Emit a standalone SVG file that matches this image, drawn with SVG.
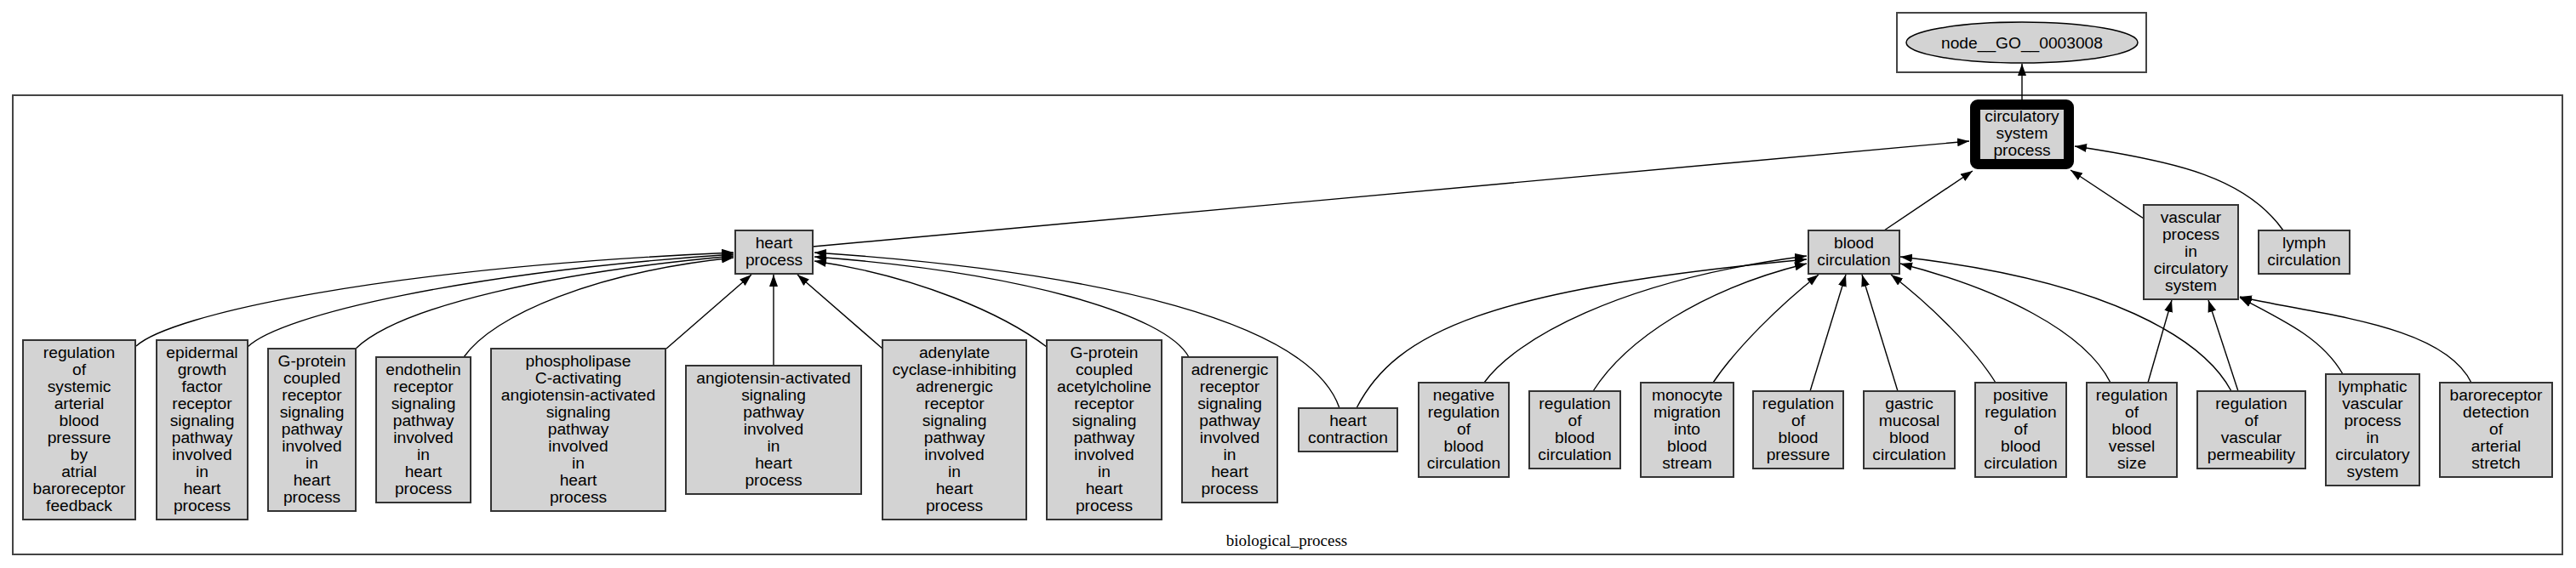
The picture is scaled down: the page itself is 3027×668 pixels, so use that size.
<svg xmlns="http://www.w3.org/2000/svg" width="3027" height="668" viewBox="0 0 3027 668">
<style>
.cl{fill:none;stroke:#444;stroke-width:2}
.n rect{fill:#d3d3d3;stroke:#333;stroke-width:2}
.n text,.top text{font-family:"Liberation Sans",Arial,sans-serif;font-size:19.2px;text-anchor:middle;fill:#000}
.edges path{fill:none;stroke:#000;stroke-width:1.4;marker-end:url(#ah)}
.lbl{font-family:"Liberation Serif","Times New Roman",serif;font-size:19px;text-anchor:middle;fill:#000}
</style>
<defs>
<marker id="ah" markerUnits="userSpaceOnUse" markerWidth="15" markerHeight="11" refX="14" refY="5" orient="auto">
<path d="M0,0 L14,5 L0,10 Z" fill="#000"/>
</marker>
</defs>
<rect width="3027" height="668" fill="#fff"/>
<rect class="cl" x="2229" y="15" width="293" height="70"/>
<rect class="cl" x="15" y="112" width="2996" height="540"/>
<text class="lbl" x="1512" y="642">biological_process</text>

<g class="edges">
<path d="M2376,117 L2376,75"/>
<path d="M955,290 L2314,166"/>
<path d="M2214,271 L2318,201"/>
<path d="M2519,257 L2433,200"/>
<path d="M2683,271 C2640,210 2560,190 2438,172"/>
<path d="M160,407 C200,370 450,315 862,297"/>
<path d="M291,408 C330,370 550,320 862,299"/>
<path d="M418,410 C470,360 650,320 862,301"/>
<path d="M545,420 C580,370 700,320 862,303"/>
<path d="M783,410 L883,323"/>
<path d="M909,430 L909,323"/>
<path d="M1037,410 L937,323"/>
<path d="M1230,408 C1180,370 1080,325 957,307"/>
<path d="M1397,420 C1370,370 1200,320 957,302"/>
<path d="M1574,480 C1540,380 1300,320 957,297"/>
<path d="M1594,480 C1640,390 1750,340 2123,305"/>
<path d="M1744,450 C1780,400 1900,330 2123,301"/>
<path d="M1872,460 C1910,400 2000,340 2123,310"/>
<path d="M2013,450 C2040,410 2090,360 2137,323"/>
<path d="M2127,460 L2169,323"/>
<path d="M2230,460 L2188,323"/>
<path d="M2345,450 C2320,410 2270,360 2222,323"/>
<path d="M2480,450 C2450,390 2350,340 2233,310"/>
<path d="M2622,460 C2590,400 2480,330 2233,302"/>
<path d="M2524,450 L2552,353"/>
<path d="M2630,460 L2595,353"/>
<path d="M2753,440 C2730,400 2690,380 2632,350"/>
<path d="M2904,450 C2870,380 2720,370 2632,349"/>
</g>

<g id="node_GO_0003008" class="top">
<ellipse cx="2376" cy="50" rx="136" ry="24" fill="#d3d3d3" stroke="#000" stroke-width="1.5"/>
<text x="2376" y="57">node__GO__0003008</text>
</g>

<g id="circulatory_system_process" class="n">
<rect x="2321" y="123" width="110" height="70" rx="3" style="stroke:#000;stroke-width:12;stroke-linejoin:round"/>
<text x="2376"><tspan x="2376" y="143">circulatory</tspan><tspan x="2376" y="163">system</tspan><tspan x="2376" y="183">process</tspan></text>
</g>

<g id="heart_process" class="n">
<rect x="864" y="271" width="91" height="51"/>
<text><tspan x="909.5" y="292">heart</tspan><tspan x="909.5" y="312">process</tspan></text>
</g>

<g id="blood_circulation" class="n">
<rect x="2125" y="271" width="107" height="51"/>
<text><tspan x="2178.5" y="292">blood</tspan><tspan x="2178.5" y="312">circulation</tspan></text>
</g>

<g id="vascular_process" class="n">
<rect x="2519" y="241" width="111" height="111"/>
<text><tspan x="2574.5" y="262">vascular</tspan><tspan x="2574.5" y="282">process</tspan><tspan x="2574.5" y="302">in</tspan><tspan x="2574.5" y="322">circulatory</tspan><tspan x="2574.5" y="342">system</tspan></text>
</g>

<g id="lymph_circulation" class="n">
<rect x="2654" y="271" width="107" height="51"/>
<text><tspan x="2707.5" y="292">lymph</tspan><tspan x="2707.5" y="312">circulation</tspan></text>
</g>

<g id="n_reg_sys_art" class="n">
<rect x="27" y="400" width="132" height="211"/>
<text><tspan x="93" y="421">regulation</tspan><tspan x="93" y="441">of</tspan><tspan x="93" y="461">systemic</tspan><tspan x="93" y="481">arterial</tspan><tspan x="93" y="501">blood</tspan><tspan x="93" y="521">pressure</tspan><tspan x="93" y="541">by</tspan><tspan x="93" y="561">atrial</tspan><tspan x="93" y="581">baroreceptor</tspan><tspan x="93" y="601">feedback</tspan></text>
</g>

<g id="n_egf" class="n">
<rect x="184" y="400" width="107" height="211"/>
<text><tspan x="237.5" y="421">epidermal</tspan><tspan x="237.5" y="441">growth</tspan><tspan x="237.5" y="461">factor</tspan><tspan x="237.5" y="481">receptor</tspan><tspan x="237.5" y="501">signaling</tspan><tspan x="237.5" y="521">pathway</tspan><tspan x="237.5" y="541">involved</tspan><tspan x="237.5" y="561">in</tspan><tspan x="237.5" y="581">heart</tspan><tspan x="237.5" y="601">process</tspan></text>
</g>

<g id="n_gpcr" class="n">
<rect x="315" y="410" width="103" height="191"/>
<text><tspan x="366.5" y="431">G-protein</tspan><tspan x="366.5" y="451">coupled</tspan><tspan x="366.5" y="471">receptor</tspan><tspan x="366.5" y="491">signaling</tspan><tspan x="366.5" y="511">pathway</tspan><tspan x="366.5" y="531">involved</tspan><tspan x="366.5" y="551">in</tspan><tspan x="366.5" y="571">heart</tspan><tspan x="366.5" y="591">process</tspan></text>
</g>

<g id="n_endothelin" class="n">
<rect x="442" y="420" width="111" height="171"/>
<text><tspan x="497.5" y="441">endothelin</tspan><tspan x="497.5" y="461">receptor</tspan><tspan x="497.5" y="481">signaling</tspan><tspan x="497.5" y="501">pathway</tspan><tspan x="497.5" y="521">involved</tspan><tspan x="497.5" y="541">in</tspan><tspan x="497.5" y="561">heart</tspan><tspan x="497.5" y="581">process</tspan></text>
</g>

<g id="n_plc" class="n">
<rect x="577" y="410" width="205" height="191"/>
<text><tspan x="679.5" y="431">phospholipase</tspan><tspan x="679.5" y="451">C-activating</tspan><tspan x="679.5" y="471">angiotensin-activated</tspan><tspan x="679.5" y="491">signaling</tspan><tspan x="679.5" y="511">pathway</tspan><tspan x="679.5" y="531">involved</tspan><tspan x="679.5" y="551">in</tspan><tspan x="679.5" y="571">heart</tspan><tspan x="679.5" y="591">process</tspan></text>
</g>

<g id="n_angio" class="n">
<rect x="806" y="430" width="206" height="151"/>
<text><tspan x="909" y="451">angiotensin-activated</tspan><tspan x="909" y="471">signaling</tspan><tspan x="909" y="491">pathway</tspan><tspan x="909" y="511">involved</tspan><tspan x="909" y="531">in</tspan><tspan x="909" y="551">heart</tspan><tspan x="909" y="571">process</tspan></text>
</g>

<g id="n_adenylate" class="n">
<rect x="1037" y="400" width="169" height="211"/>
<text><tspan x="1121.5" y="421">adenylate</tspan><tspan x="1121.5" y="441">cyclase-inhibiting</tspan><tspan x="1121.5" y="461">adrenergic</tspan><tspan x="1121.5" y="481">receptor</tspan><tspan x="1121.5" y="501">signaling</tspan><tspan x="1121.5" y="521">pathway</tspan><tspan x="1121.5" y="541">involved</tspan><tspan x="1121.5" y="561">in</tspan><tspan x="1121.5" y="581">heart</tspan><tspan x="1121.5" y="601">process</tspan></text>
</g>

<g id="n_ach" class="n">
<rect x="1230" y="400" width="135" height="211"/>
<text><tspan x="1297.5" y="421">G-protein</tspan><tspan x="1297.5" y="441">coupled</tspan><tspan x="1297.5" y="461">acetylcholine</tspan><tspan x="1297.5" y="481">receptor</tspan><tspan x="1297.5" y="501">signaling</tspan><tspan x="1297.5" y="521">pathway</tspan><tspan x="1297.5" y="541">involved</tspan><tspan x="1297.5" y="561">in</tspan><tspan x="1297.5" y="581">heart</tspan><tspan x="1297.5" y="601">process</tspan></text>
</g>

<g id="n_adrenergic" class="n">
<rect x="1389" y="420" width="112" height="171"/>
<text><tspan x="1445" y="441">adrenergic</tspan><tspan x="1445" y="461">receptor</tspan><tspan x="1445" y="481">signaling</tspan><tspan x="1445" y="501">pathway</tspan><tspan x="1445" y="521">involved</tspan><tspan x="1445" y="541">in</tspan><tspan x="1445" y="561">heart</tspan><tspan x="1445" y="581">process</tspan></text>
</g>

<g id="n_heart_contraction" class="n">
<rect x="1526" y="480" width="116" height="51"/>
<text><tspan x="1584" y="501">heart</tspan><tspan x="1584" y="521">contraction</tspan></text>
</g>

<g id="n_negreg" class="n">
<rect x="1667" y="450" width="106" height="111"/>
<text><tspan x="1720" y="471">negative</tspan><tspan x="1720" y="491">regulation</tspan><tspan x="1720" y="511">of</tspan><tspan x="1720" y="531">blood</tspan><tspan x="1720" y="551">circulation</tspan></text>
</g>

<g id="n_regbc" class="n">
<rect x="1797" y="460" width="107" height="91"/>
<text><tspan x="1850.5" y="481">regulation</tspan><tspan x="1850.5" y="501">of</tspan><tspan x="1850.5" y="521">blood</tspan><tspan x="1850.5" y="541">circulation</tspan></text>
</g>

<g id="n_monocyte" class="n">
<rect x="1928" y="450" width="109" height="111"/>
<text><tspan x="1982.5" y="471">monocyte</tspan><tspan x="1982.5" y="491">migration</tspan><tspan x="1982.5" y="511">into</tspan><tspan x="1982.5" y="531">blood</tspan><tspan x="1982.5" y="551">stream</tspan></text>
</g>

<g id="n_regbp" class="n">
<rect x="2060" y="460" width="106" height="91"/>
<text><tspan x="2113" y="481">regulation</tspan><tspan x="2113" y="501">of</tspan><tspan x="2113" y="521">blood</tspan><tspan x="2113" y="541">pressure</tspan></text>
</g>

<g id="n_gastric" class="n">
<rect x="2190" y="460" width="107" height="91"/>
<text><tspan x="2243.5" y="481">gastric</tspan><tspan x="2243.5" y="501">mucosal</tspan><tspan x="2243.5" y="521">blood</tspan><tspan x="2243.5" y="541">circulation</tspan></text>
</g>

<g id="n_posreg" class="n">
<rect x="2321" y="450" width="107" height="111"/>
<text><tspan x="2374.5" y="471">positive</tspan><tspan x="2374.5" y="491">regulation</tspan><tspan x="2374.5" y="511">of</tspan><tspan x="2374.5" y="531">blood</tspan><tspan x="2374.5" y="551">circulation</tspan></text>
</g>

<g id="n_regbvs" class="n">
<rect x="2452" y="450" width="106" height="111"/>
<text><tspan x="2505" y="471">regulation</tspan><tspan x="2505" y="491">of</tspan><tspan x="2505" y="511">blood</tspan><tspan x="2505" y="531">vessel</tspan><tspan x="2505" y="551">size</tspan></text>
</g>

<g id="n_regvp" class="n">
<rect x="2582" y="460" width="127" height="91"/>
<text><tspan x="2645.5" y="481">regulation</tspan><tspan x="2645.5" y="501">of</tspan><tspan x="2645.5" y="521">vascular</tspan><tspan x="2645.5" y="541">permeability</tspan></text>
</g>

<g id="n_lymphatic" class="n">
<rect x="2733" y="440" width="110" height="131"/>
<text><tspan x="2788" y="461">lymphatic</tspan><tspan x="2788" y="481">vascular</tspan><tspan x="2788" y="501">process</tspan><tspan x="2788" y="521">in</tspan><tspan x="2788" y="541">circulatory</tspan><tspan x="2788" y="561">system</tspan></text>
</g>

<g id="n_baro" class="n">
<rect x="2867" y="450" width="132" height="111"/>
<text><tspan x="2933" y="471">baroreceptor</tspan><tspan x="2933" y="491">detection</tspan><tspan x="2933" y="511">of</tspan><tspan x="2933" y="531">arterial</tspan><tspan x="2933" y="551">stretch</tspan></text>
</g>
</svg>
